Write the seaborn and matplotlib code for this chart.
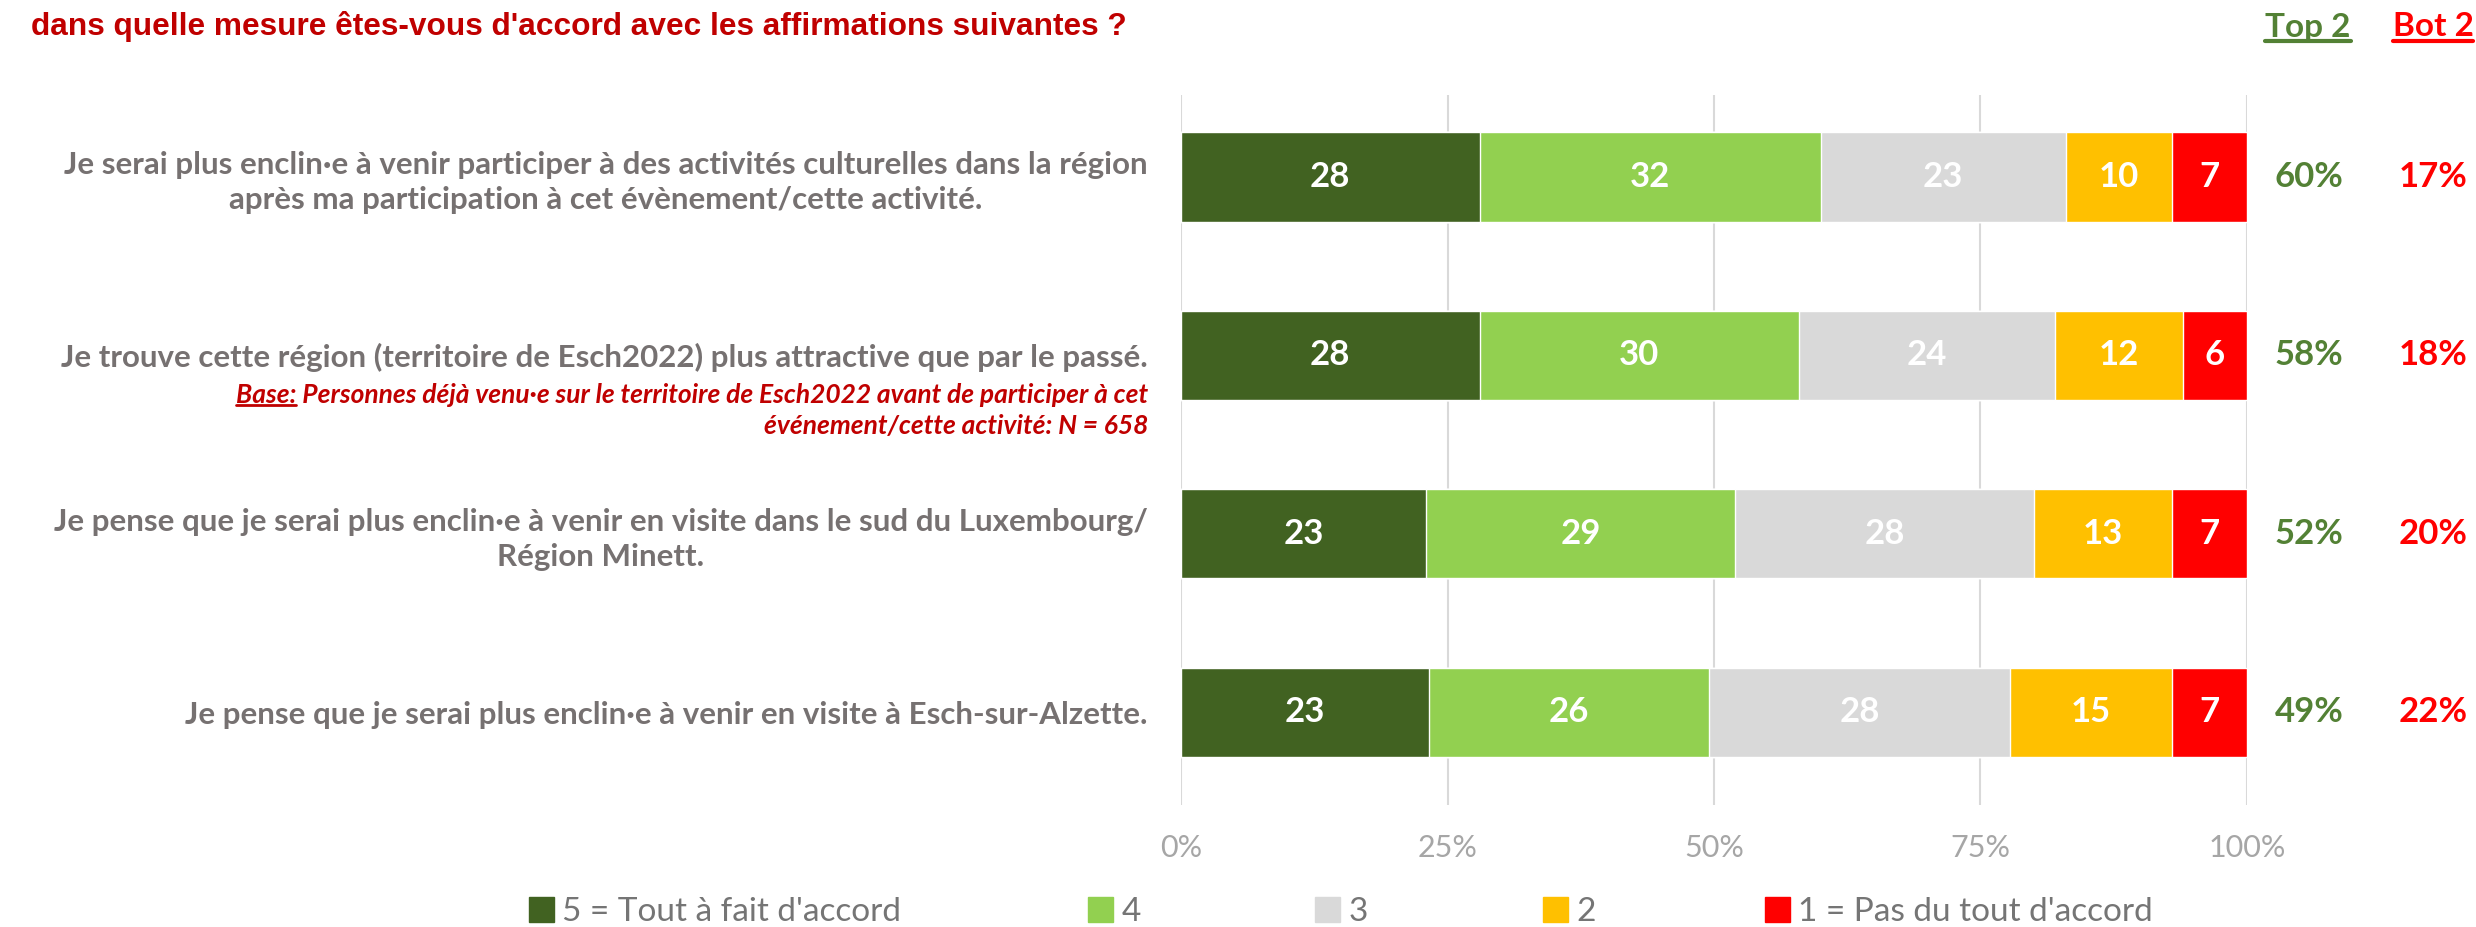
import matplotlib
matplotlib.use("Agg")
import matplotlib.pyplot as plt
import seaborn as sns
import pandas as pd
from matplotlib.patches import Patch
from matplotlib.lines import Line2D
from matplotlib.transforms import blended_transform_factory

# données
statements = [
    "Je serai plus enclin·e à venir participer à des activités culturelles dans la région\naprès ma participation à cet évènement/cette activité.",
    "Je trouve cette région (territoire de Esch2022) plus attractive que par le passé.",
    "Je pense que je serai plus enclin·e à venir en visite dans le sud du Luxembourg/\nRégion Minett.",
    "Je pense que je serai plus enclin·e à venir en visite à Esch-sur-Alzette.",
]
levels = ["5 = Tout à fait d'accord", "4", "3", "2", "1 = Pas du tout d'accord"]
score5 = [28, 28, 23, 23]
score4 = [32, 30, 29, 26]
score3 = [23, 24, 28, 28]
score2 = [10, 12, 13, 15]
score1 = [7, 6, 7, 7]
top2 = [60, 58, 52, 49]
bot2 = [17, 18, 20, 22]
colors = ["#416221", "#92D050", "#D9D9D9", "#FFC000", "#FF0000"]

title = "dans quelle mesure êtes-vous d'accord avec les affirmations suivantes ?"
note1 = "Base: Personnes déjà venu·e sur le territoire de Esch2022 avant de participer à cet"
note2 = "événement/cette activité: N = 658"

df = pd.DataFrame({"stmt": statements, levels[0]: score5, levels[1]: score4,
                   levels[2]: score3, levels[3]: score2, levels[4]: score1})
vals = df[levels]
share = vals.div(vals.sum(axis=1), axis=0) * 100   # 100% empilé comme Excel
cum = share.cumsum(axis=1)

sns.set_style("white")
plt.rcParams["font.family"] = ["Lato", "DejaVu Sans"]

W, H = 2476, 927
fig = plt.figure(figsize=(W / 100, H / 100), dpi=100)
ax = fig.add_axes([0.477, 0.1316, 0.4305, 0.766])

# barres cumulées, de la plus longue à la plus courte
for lvl, col in reversed(list(zip(levels, colors))):
    sns.barplot(x=cum[lvl], y=df["stmt"], color=col, orient="h", width=0.5,
                ax=ax, zorder=3, saturation=1)

for i in range(len(df)):
    for lvl in levels:
        left = cum[lvl].iloc[i] - share[lvl].iloc[i]
        ax.text(left + share[lvl].iloc[i] / 2, i, str(vals[lvl].iloc[i]),
                ha="center", va="center", color="white", fontsize=25,
                fontweight="bold", zorder=4)

ax.set_xlim(0, 100)
ax.set_ylim(3.52, -0.46)
ax.set_xticks([0, 25, 50, 75, 100])
ax.set_xticklabels(["0%", "25%", "50%", "75%", "100%"])
ax.xaxis.grid(True, color="#D9D9D9", lw=1.5, zorder=0)
ax.set_axisbelow(True)
sns.despine(ax=ax, left=True, bottom=True)
ax.set_xlabel("")
ax.set_ylabel("")
ax.tick_params(axis="x", length=0, pad=21, labelsize=22, labelcolor="#A6A6A6")
ax.tick_params(axis="y", length=0, pad=24, labelsize=22.5, labelcolor="#767171")
for lbl in ax.get_yticklabels():
    lbl.set_fontweight("bold")
    lbl.set_multialignment("center")
    lbl.set_linespacing(1.3)

# Top 2 / Bot 2
tr = blended_transform_factory(fig.transFigure, ax.transData)
for i in range(len(df)):
    ax.text(2309 / W, i, f"{top2[i]}%", transform=tr, ha="center", va="center",
            fontsize=25, fontweight="bold", color="#538135")
    ax.text(2433 / W, i, f"{bot2[i]}%", transform=tr, ha="center", va="center",
            fontsize=25, fontweight="bold", color="#FF0000")

t_top = fig.text(2308 / W, 1 - 27 / H, "Top 2", ha="center", va="center",
                 fontsize=24, fontweight="bold", color="#538135")
t_bot = fig.text(2433 / W, 1 - 27 / H, "Bot 2", ha="center", va="center",
                 fontsize=24, fontweight="bold", color="#FF0000")

fig.text(31 / W, 1 - 27 / H, title, ha="left", va="center", fontsize=22.8,
         fontweight="bold", color="#C00000", family=["Liberation Sans", "DejaVu Sans"])

n1 = fig.text(1148 / W, 1 - 395 / H, note1, ha="right", va="center", fontsize=19,
              fontweight="bold", style="italic", color="#C00000")
fig.text(1148 / W, 1 - 426 / H, note2, ha="right", va="center", fontsize=19,
         fontweight="bold", style="italic", color="#C00000")

# légende
leg_x = [529, 1088, 1315, 1543, 1765]
for x, lvl, col in zip(leg_x, levels, colors):
    fig.legend(handles=[Patch(color=col, label=lvl)], loc="center left",
               bbox_to_anchor=(x / W, 1 - 912 / H), frameon=False,
               handlelength=0.75, handleheight=0.75, handletextpad=0.25,
               borderpad=0, borderaxespad=0, fontsize=24, labelcolor="#757575")

# soulignements
fig.canvas.draw()
r = fig.canvas.get_renderer()


def underline(x0, x1, y, color, lw=3):
    fig.add_artist(Line2D([x0 / W, x1 / W], [y / H, y / H], color=color, lw=lw,
                          transform=fig.transFigure))


for t, c in [(t_top, "#538135"), (t_bot, "#FF0000")]:
    bb = t.get_window_extent(r)
    underline(bb.x0, bb.x1, bb.y0 + 1, c)

bb = n1.get_window_extent(r)
tmp = fig.text(0, 0, "Base:", fontsize=19, fontweight="bold", style="italic")
wb = tmp.get_window_extent(r).width
tmp.remove()
underline(bb.x0, bb.x0 + wb, bb.y0 + 2, "#C00000", lw=2)

fig.savefig("out.png", dpi=100)
